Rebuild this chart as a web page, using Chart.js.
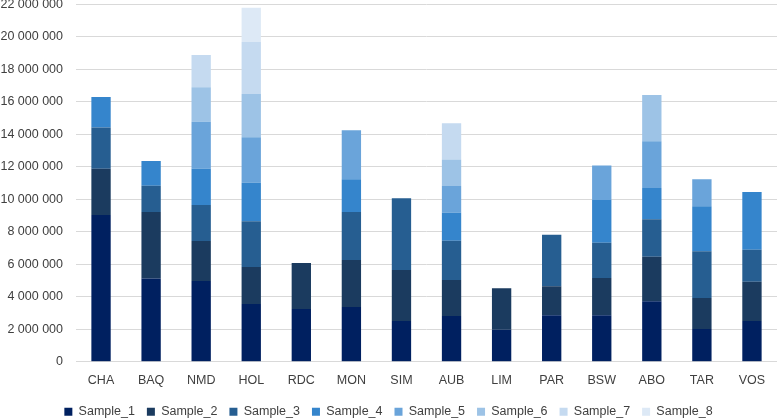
<!DOCTYPE html>
<html>
<head>
<meta charset="utf-8">
<script src="https://cdn.jsdelivr.net/npm/chart.js@4/dist/chart.umd.min.js"></script>
<style>
  html, body { margin: 0; padding: 0; background: #fff; }
  #wrap { width: 777px; height: 419px; }
</style>
</head>
<body>
<div id="wrap"><canvas id="stackChart" width="777" height="419"></canvas></div>
<script>
// ===== DATA =====
const sites = ["CHA", "BAQ", "NMD", "HOL", "RDC", "MON", "SIM", "AUB", "LIM", "PAR", "BSW", "ABO", "TAR", "VOS"];

const sample1 = [9030000, 5130000, 4970000, 3550000, 3250000, 3370000, 2510000, 2820000, 1970000, 2860000, 2860000, 3720000, 2010000, 2510000];
const sample2 = [2850000, 4090000, 2460000, 2280000, 2830000, 2890000, 3140000, 2210000, 2550000, 1780000, 2290000, 2750000, 1910000, 2420000];
const sample3 = [2550000, 1620000, 2220000, 2820000, 0, 2960000, 4410000, 2420000, 0, 3180000, 2180000, 2300000, 2880000, 1970000];
const sample4 = [1870000, 1520000, 2230000, 2370000, 0, 2010000, 0, 1720000, 0, 0, 2630000, 1930000, 2770000, 3550000];
const sample5 = [0, 0, 2900000, 2800000, 0, 3020000, 0, 1650000, 0, 0, 2130000, 2870000, 1660000, 0];
const sample6 = [0, 0, 2130000, 2660000, 0, 0, 0, 1640000, 0, 0, 0, 2850000, 0, 0];
const sample7 = [0, 0, 1980000, 3210000, 0, 0, 0, 2220000, 0, 0, 0, 0, 0, 0];
const sample8 = [0, 0, 0, 2110000, 0, 0, 0, 0, 0, 0, 0, 0, 0, 0];

const sampleNames = ["Sample_1", "Sample_2", "Sample_3", "Sample_4", "Sample_5", "Sample_6", "Sample_7", "Sample_8"];
const sampleColors = ["#002060", "#1b3b5f", "#265e91", "#3585cc", "#6aa4da", "#9dc3e6", "#c5daf0", "#dde9f6"];

const allSamples = [sample1, sample2, sample3, sample4, sample5, sample6, sample7, sample8];

// ===== CHART =====
const datasets = allSamples.map((vals, i) => ({
  label: sampleNames[i],
  data: vals,
  backgroundColor: sampleColors[i],
  borderWidth: 0,
  barPercentage: 0.386,
  categoryPercentage: 1,
}));

function fmt(v) {
  return Number(v).toLocaleString("en-US").replace(/,/g, " ");
}

const txtFont = { family: "Liberation Sans", size: 12.5 };

new Chart(document.getElementById("stackChart"), {
  type: "bar",
  data: { labels: sites, datasets: datasets },
  options: {
    responsive: false,
    animation: false,
    devicePixelRatio: 1,
    // negative bottom padding pulls the legend down to the canvas edge
    layout: { padding: { left: 0, right: 0, top: 0, bottom: -9 } },
    plugins: {
      legend: {
        position: "bottom",
        labels: {
          boxWidth: 8,
          boxHeight: 8,
          padding: 12,
          color: "#404040",
          font: txtFont,
        },
      },
      tooltip: { enabled: false },
    },
    scales: {
      x: {
        stacked: true,
        grid: { display: false, drawTicks: false },
        border: { color: "#d9d9d9", width: 1 },
        ticks: { padding: 11, color: "#404040", font: txtFont },
        afterFit: (scale) => { scale.height = 31.8; },
      },
      y: {
        stacked: true,
        min: 0,
        max: 22000000,
        grid: { color: "#d9d9d9", lineWidth: 1, drawTicks: false },
        border: { display: false },
        ticks: {
          stepSize: 2000000,
          padding: 13,
          color: "#404040",
          font: txtFont,
          callback: (v) => fmt(v),
        },
        afterFit: (scale) => {
          scale.width = 76;
          scale.paddingTop = 4.5; // top label sits on the edge like the original
        },
      },
    },
  },
});
</script>
</body>
</html>
